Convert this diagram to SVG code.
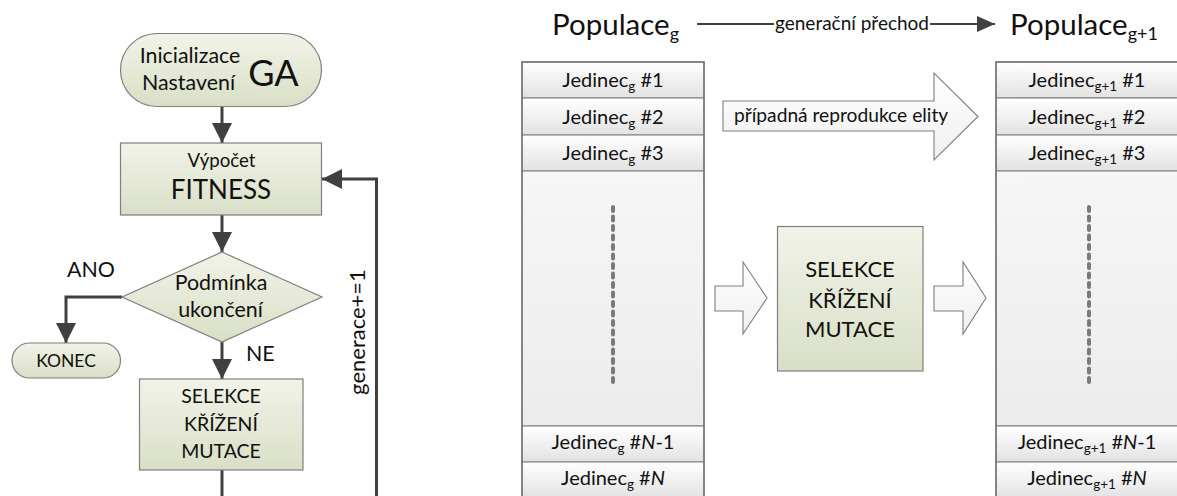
<svg xmlns="http://www.w3.org/2000/svg" width="1177" height="496" viewBox="0 0 1177 496">
  <style>
    text { font-family: Lato, "Open Sans", "DejaVu Sans", sans-serif; fill: #111; }
    .node { fill: url(#olive); stroke: #7f7f7f; stroke-width: 1.2; }
    .conn { fill: none; stroke: #404040; stroke-width: 3; }
    .cell { fill: url(#cellGrad); stroke: #8c8c8c; stroke-width: 1.2; }
    .mid { fill: url(#midGrad); stroke: #8c8c8c; stroke-width: 1.2; }
    .frame { fill: none; stroke: #6f6f6f; stroke-width: 1.4; }
    .blk { fill: url(#arrowGrad); stroke: #7f7f7f; stroke-width: 1.1; }
    .dots { fill: none; stroke: #7a7a7a; stroke-width: 4; stroke-linecap: round; stroke-dasharray: 4 5.5; }
    .c { text-anchor: middle; }
    .row { font-size: 20px; text-anchor: middle; }
    .sub { font-size: 13.5px; }
  </style>
  <defs>
    <linearGradient id="olive" x1="0" y1="0" x2="0" y2="1">
      <stop offset="0" stop-color="#f1f3e8"/>
      <stop offset="1" stop-color="#d9dfc6"/>
    </linearGradient>
    <linearGradient id="cellGrad" x1="0" y1="0" x2="0" y2="1">
      <stop offset="0" stop-color="#ffffff"/>
      <stop offset="1" stop-color="#e2e2e2"/>
    </linearGradient>
    <linearGradient id="midGrad" x1="0" y1="0" x2="0" y2="1">
      <stop offset="0" stop-color="#f6f6f6"/>
      <stop offset="1" stop-color="#ececec"/>
    </linearGradient>
    <linearGradient id="arrowGrad" x1="0" y1="0" x2="0" y2="1">
      <stop offset="0" stop-color="#ffffff"/>
      <stop offset="1" stop-color="#efefef"/>
    </linearGradient>
    <marker id="ah" viewBox="0 0 20 20" refX="20" refY="10" markerWidth="20" markerHeight="20" markerUnits="userSpaceOnUse" orient="auto">
      <path d="M0,0 L20,10 L0,20 Z" fill="#404040"/>
    </marker>
    <marker id="ahs" viewBox="0 0 18 16" refX="18" refY="8" markerWidth="18" markerHeight="16" markerUnits="userSpaceOnUse" orient="auto">
      <path d="M0,0 L18,8 L0,16 Z" fill="#404040"/>
    </marker>
  </defs>

  <!-- Flowchart: connectors -->
  <g id="connectors">
    <path class="conn" d="M222,106 V143" marker-end="url(#ah)"/>
    <path class="conn" d="M222,215 V252" marker-end="url(#ah)"/>
    <path class="conn" d="M122,297 H66 V343" marker-end="url(#ah)"/>
    <path class="conn" d="M222,342 V379" marker-end="url(#ah)"/>
    <path class="conn" d="M222,470 V496"/>
    <path class="conn" d="M376.5,496 V179 H322" marker-end="url(#ah)"/>
    <path d="M697,24 H774" fill="none" stroke="#404040" stroke-width="2"/>
    <path d="M930,24 H995" fill="none" stroke="#404040" stroke-width="2" marker-end="url(#ahs)"/>
  </g>

  <!-- Flowchart: labels on branches -->
  <text x="91" y="277" class="c" font-size="21.4">ANO</text>
  <text x="246" y="361" font-size="21.4">NE</text>
  <text transform="translate(365,332) rotate(-90)" class="c" font-size="22">generace+=1</text>

  <!-- Flowchart: nodes -->
  <g id="start">
    <rect class="node" x="120.5" y="33.5" width="201" height="73" rx="36.5"/>
    <text x="190" y="63" class="c" font-size="21.4">Inicializace</text>
    <text x="188.5" y="90" class="c" font-size="21.4">Nastavení</text>
    <text x="273.5" y="86" class="c" font-size="36">GA</text>
  </g>
  <g id="fitness">
    <rect class="node" x="120.5" y="143" width="201" height="72"/>
    <text x="221.5" y="167" class="c" font-size="18.6">Výpočet</text>
    <text x="221" y="199" class="c" font-size="26">FITNESS</text>
  </g>
  <g id="condition">
    <polygon class="node" points="222,252 322,297 222,342 122,297"/>
    <text x="221" y="290" class="c" font-size="21.4">Podmínka</text>
    <text x="220.5" y="317" class="c" font-size="21.4">ukončení</text>
  </g>
  <g id="end">
    <rect class="node" x="12" y="343" width="108.5" height="35" rx="17.5"/>
    <text x="66" y="367" class="c" font-size="17.5">KONEC</text>
  </g>
  <g id="operators">
    <rect class="node" x="139.5" y="379" width="163.5" height="91"/>
    <text x="221" y="403" class="c" font-size="19.5">SELEKCE</text>
    <text x="221" y="431" class="c" font-size="19.5">KŘÍŽENÍ</text>
    <text x="221" y="458" class="c" font-size="19.5">MUTACE</text>
  </g>

  <!-- Generation transition: headings -->
  <g id="heading-g">
    <text x="552" y="35" font-size="29.5">Populace<tspan font-size="18" dy="5">g</tspan></text>
  </g>
  <g id="heading-transition">
    <text x="775" y="29.5" font-size="19">generační přechod</text>
  </g>
  <g id="heading-g1">
    <text x="1010" y="35" font-size="29.5">Populace<tspan font-size="18" dy="5">g+1</tspan></text>
  </g>

  <!-- Population g -->
  <g id="population-g">
    <rect class="cell" x="522" y="62" width="182" height="36"/>
    <rect class="cell" x="522" y="98" width="182" height="37"/>
    <rect class="cell" x="522" y="135" width="182" height="36"/>
    <rect class="mid" x="522" y="171" width="182" height="255"/>
    <rect class="cell" x="522" y="426" width="182" height="36"/>
    <rect class="cell" x="522" y="462" width="182" height="36"/>
    <rect class="frame" x="522" y="62" width="182" height="440"/>
    <path class="dots" d="M613,207 V386"/>
    <text x="613" y="87" class="row">Jedinec<tspan class="sub" dy="4">g</tspan><tspan dy="-4"> #1</tspan></text>
    <text x="613" y="123.5" class="row">Jedinec<tspan class="sub" dy="4">g</tspan><tspan dy="-4"> #2</tspan></text>
    <text x="613" y="160" class="row">Jedinec<tspan class="sub" dy="4">g</tspan><tspan dy="-4"> #3</tspan></text>
    <text x="613" y="448.5" class="row">Jedinec<tspan class="sub" dy="4">g</tspan><tspan dy="-4"> #</tspan><tspan font-style="italic">N</tspan>-1</text>
    <text x="613" y="485" class="row">Jedinec<tspan class="sub" dy="4">g</tspan><tspan dy="-4"> #</tspan><tspan font-style="italic">N</tspan></text>
  </g>

  <!-- Elite reproduction arrow -->
  <g id="elite">
    <polygon class="blk" points="723,101 934,101 934,73 978,116.5 934,160 934,131 723,131"/>
    <text x="734" y="122" font-size="19.2">případná reprodukce elity</text>
  </g>

  <!-- Genetic operators -->
  <g id="arrow-in">
    <polygon class="blk" points="715,286 743,286 743,262 767,298 743,334 743,311 715,311"/>
  </g>
  <g id="genetic-operators">
    <rect class="node" x="777.5" y="226.5" width="145.5" height="144.5"/>
    <text x="850" y="277" class="c" font-size="22">SELEKCE</text>
    <text x="850" y="308" class="c" font-size="22">KŘÍŽENÍ</text>
    <text x="850" y="337" class="c" font-size="22">MUTACE</text>
  </g>
  <g id="arrow-out">
    <polygon class="blk" points="934,286 963,286 963,262 986,298 963,334 963,311 934,311"/>
  </g>

  <!-- Population g+1 -->
  <g id="population-g1">
    <rect class="cell" x="996" y="62" width="183" height="36"/>
    <rect class="cell" x="996" y="98" width="183" height="37"/>
    <rect class="cell" x="996" y="135" width="183" height="36"/>
    <rect class="mid" x="996" y="171" width="183" height="255"/>
    <rect class="cell" x="996" y="426" width="183" height="36"/>
    <rect class="cell" x="996" y="462" width="183" height="36"/>
    <rect class="frame" x="996" y="62" width="183" height="440"/>
    <path class="dots" d="M1089,207 V386"/>
    <text x="1087" y="87" class="row">Jedinec<tspan class="sub" dy="4">g+1</tspan><tspan dy="-4"> #1</tspan></text>
    <text x="1087" y="123.5" class="row">Jedinec<tspan class="sub" dy="4">g+1</tspan><tspan dy="-4"> #2</tspan></text>
    <text x="1087" y="160" class="row">Jedinec<tspan class="sub" dy="4">g+1</tspan><tspan dy="-4"> #3</tspan></text>
    <text x="1087" y="448.5" class="row">Jedinec<tspan class="sub" dy="4">g+1</tspan><tspan dy="-4"> #</tspan><tspan font-style="italic">N</tspan>-1</text>
    <text x="1087" y="485" class="row">Jedinec<tspan class="sub" dy="4">g+1</tspan><tspan dy="-4"> #</tspan><tspan font-style="italic">N</tspan></text>
  </g>
</svg>
